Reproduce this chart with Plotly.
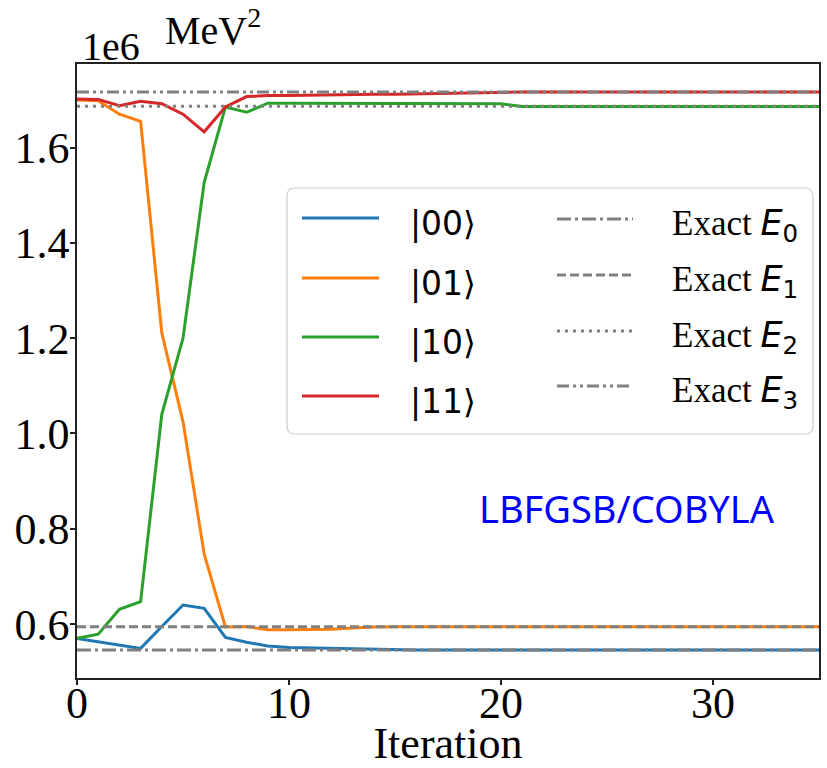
import plotly.graph_objects as go

# ---- data (energies in units of 1e6 MeV^2) ----
iterations = list(range(36))

state_labels = ["|00⟩", "|01⟩", "|10⟩", "|11⟩"]
state_colors = ["#1f77b4", "#ff7f0e", "#2ca02c", "#d62728"]

energy_00 = [0.570, 0.563, 0.556, 0.549, 0.595, 0.640, 0.633, 0.572, 0.562, 0.554,
             0.551, 0.550, 0.549, 0.547, 0.546, 0.5456, 0.5455, 0.5455, 0.5455, 0.5455,
             0.5455, 0.5455, 0.5455, 0.5455, 0.5455, 0.5455, 0.5455, 0.5455, 0.5455, 0.5455,
             0.5455, 0.5455, 0.5455, 0.5455, 0.5455, 0.5455]
energy_01 = [1.700, 1.698, 1.670, 1.655, 1.211, 1.025, 0.747, 0.594, 0.595, 0.588,
             0.588, 0.588, 0.589, 0.592, 0.594, 0.5944, 0.5944, 0.5944, 0.5944, 0.5944,
             0.5944, 0.5944, 0.5944, 0.5944, 0.5944, 0.5944, 0.5944, 0.5944, 0.5944, 0.5944,
             0.5944, 0.5944, 0.5944, 0.5944, 0.5944, 0.5944]
energy_10 = [0.570, 0.579, 0.631, 0.647, 1.040, 1.200, 1.527, 1.685, 1.674, 1.693,
             1.693, 1.693, 1.693, 1.693, 1.693, 1.693, 1.693, 1.693, 1.692, 1.692,
             1.692, 1.686, 1.686, 1.686, 1.686, 1.686, 1.686, 1.686, 1.686, 1.686,
             1.686, 1.686, 1.686, 1.686, 1.686, 1.686]
energy_11 = [1.702, 1.701, 1.688, 1.697, 1.692, 1.670, 1.633, 1.685, 1.707, 1.709,
             1.709, 1.710, 1.710, 1.711, 1.712, 1.712, 1.713, 1.714, 1.715, 1.715,
             1.716, 1.7167, 1.7167, 1.7167, 1.7167, 1.7167, 1.7167, 1.7167, 1.7167, 1.7167,
             1.7167, 1.7167, 1.7167, 1.7167, 1.7167, 1.7167]
state_energies = [energy_00, energy_01, energy_10, energy_11]

exact_energies = [0.5455, 0.5944, 1.6866, 1.7167]
exact_labels = ["0", "1", "2", "3"]
exact_dashes = ["14px,4px,3px,4px", "9px,4px", "3px,5px", "12px,4px,3px,4px,3px,4px"]
exact_color = "#808080"

x_ticks = [0, 10, 20, 30]
y_ticks = [0.6, 0.8, 1.0, 1.2, 1.4, 1.6]

# ---- page geometry (pixels) ----
W, H = 827, 768
PL, PR, PT, PB = 77, 819, 64, 678


def fx(p):
    return (p - PL) / (PR - PL)


def fy(p):
    return (PB - p) / (PB - PT)


SERIF = "Liberation Serif"
SANS = "DejaVu Sans"

fig = go.Figure()

for name, color, vals in zip(state_labels, state_colors, state_energies):
    fig.add_trace(go.Scatter(x=iterations, y=vals, mode="lines", name=name,
                             line=dict(color=color, width=3), showlegend=False))

for lab, dash, val in zip(exact_labels, exact_dashes, exact_energies):
    fig.add_trace(go.Scatter(x=[iterations[0], iterations[-1]], y=[val, val], mode="lines",
                             name="Exact E" + lab,
                             line=dict(color=exact_color, width=3, dash=dash),
                             showlegend=False))

shapes = []
annotations = []

# legend frame
bx0, by0, bx1, by1, r = 287, 188, 813, 434, 8
path = (f"M {fx(bx0 + r)} {fy(by0)} L {fx(bx1 - r)} {fy(by0)} "
        f"Q {fx(bx1)} {fy(by0)} {fx(bx1)} {fy(by0 + r)} "
        f"L {fx(bx1)} {fy(by1 - r)} Q {fx(bx1)} {fy(by1)} {fx(bx1 - r)} {fy(by1)} "
        f"L {fx(bx0 + r)} {fy(by1)} Q {fx(bx0)} {fy(by1)} {fx(bx0)} {fy(by1 - r)} "
        f"L {fx(bx0)} {fy(by0 + r)} Q {fx(bx0)} {fy(by0)} {fx(bx0 + r)} {fy(by0)} Z")
shapes.append(dict(type="path", xref="paper", yref="paper", path=path,
                   line=dict(color="#cccccc", width=1.2),
                   fillcolor="rgba(255,255,255,0.85)", layer="above"))

left_rows = [218, 278, 337, 396]
for yy, name, color in zip(left_rows, state_labels, state_colors):
    shapes.append(dict(type="line", xref="paper", yref="paper",
                       x0=fx(302), x1=fx(379), y0=fy(yy), y1=fy(yy),
                       line=dict(color=color, width=3), layer="above"))
    annotations.append(dict(xref="paper", yref="paper", x=fx(408), y=fy(yy + 5),
                            xanchor="left", yanchor="middle", showarrow=False,
                            text=name, font=dict(family=SANS, size=33, color="black")))

right_rows = [219, 275, 331, 386]
for yy, lab, dash in zip(right_rows, exact_labels, exact_dashes):
    shapes.append(dict(type="line", xref="paper", yref="paper",
                       x0=fx(557), x1=fx(633), y0=fy(yy), y1=fy(yy),
                       line=dict(color=exact_color, width=3, dash=dash), layer="above"))
    annotations.append(dict(xref="paper", yref="paper", x=fx(670), y=fy(yy + 6),
                            xanchor="left", yanchor="middle", showarrow=False,
                            text=("Exact <span style=\"font-family:'DejaVu Sans'\"><i>E</i>"
                                  f"<sub>{lab}</sub></span>"),
                            font=dict(family=SERIF, size=35, color="black")))

# offset text and unit above the axes
annotations.append(dict(xref="paper", yref="paper", x=fx(80), y=fy(71),
                        xanchor="left", yanchor="bottom", showarrow=False,
                        text="1e6", font=dict(family=SERIF, size=40, color="black")))
annotations.append(dict(xref="paper", yref="paper", x=fx(163), y=fy(55),
                        xanchor="left", yanchor="bottom", showarrow=False,
                        text="MeV<sup>2</sup>", font=dict(family=SERIF, size=40, color="black")))

# optimizer tag
annotations.append(dict(xref="paper", yref="paper", x=fx(627), y=fy(508),
                        xanchor="center", yanchor="middle", showarrow=False,
                        text="LBFGSB/COBYLA", font=dict(family="Noto Sans", size=38, color="#0000ff")))

axis_common = dict(showline=True, mirror=True, linecolor="#222222", linewidth=1.5,
                   ticks="outside", ticklen=5, tickwidth=1.5, tickcolor="#222222",
                   showgrid=False, zeroline=False, automargin=False)

fig.update_layout(
    width=W, height=H,
    margin=dict(l=PL, r=W - PR, t=PT, b=H - PB),
    paper_bgcolor="white", plot_bgcolor="white",
    xaxis=dict(range=[0, 35], tickvals=x_ticks, ticklabelstandoff=-20, **axis_common,
               tickfont=dict(family=SERIF, size=44, color="black"),
               title=dict(text="Iteration", font=dict(family=SERIF, size=44, color="black"),
                          standoff=7)),
    yaxis=dict(range=[0.4869, 1.7753], tickvals=y_ticks, tickformat=".1f",
               ticklabelstandoff=-8, **axis_common,
               tickfont=dict(family=SERIF, size=44, color="black")),
    shapes=shapes, annotations=annotations,
    showlegend=False,
)

fig.write_html("out.html")
